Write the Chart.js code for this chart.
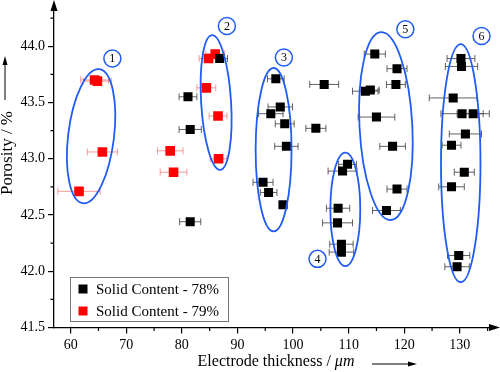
<!DOCTYPE html>
<html>
<head>
<meta charset="utf-8">
<script src="https://cdn.jsdelivr.net/npm/chart.js@4.4.1/dist/chart.umd.min.js"></script>
<style>
  html, body { margin: 0; padding: 0; background: #fff; }
  #wrap { width: 500px; height: 372px; }
</style>
</head>
<body>
<div id="wrap"><canvas id="chart"></canvas></div>
<script>
// Solid content 78 % (black)
const blackX = [86.8, 81.1, 81.5, 81.5, 96.9, 97.7, 96.0, 98.5, 98.8, 94.6, 95.6, 98.2,
  105.6, 104.1, 109.8, 108.9, 108.1, 108.0, 108.7, 108.7,
  114.7, 118.7, 118.5, 113.0, 113.9, 115.0, 117.9, 118.7, 116.8,
  130.2, 130.3, 128.8, 130.4, 132.4, 131.0, 128.5, 130.8, 128.5, 129.8, 129.5]
const blackY = [43.89, 43.55, 43.26, 42.44, 43.71, 43.46, 43.40, 43.31, 43.11, 42.79, 42.70, 42.59,
  43.66, 43.27, 42.95, 42.89, 42.56, 42.43, 42.24, 42.17,
  43.93, 43.80, 43.66, 43.60, 43.61, 43.37, 43.11, 42.73, 42.54,
  43.89, 43.82, 43.54, 43.40, 43.40, 43.22, 43.12, 42.88, 42.75, 42.14, 42.04]
const blackErr = [1.4, 1.6, 2.0, 1.9, 1.5, 2.2, 2.2, 1.7, 2.1, 1.8, 1.5, 0.7,
  2.6, 1.8, 1.6, 2.6, 2.1, 2.7, 2.1, 2.2,
  1.9, 1.8, 1.7, 2.3, 1.6, 3.3, 2.3, 1.8, 2.5,
  2.5, 2.9, 4.3, 3.8, 2.9, 2.9, 1.7, 1.8, 2.3, 2.0, 2.2]

// Solid content 79 % (red)
const redX = [64.3, 64.8, 65.7, 61.5, 77.9, 78.5, 84.4, 86.5, 86.6, 84.8, 86.0]
const redY = [43.70, 43.69, 43.06, 42.71, 43.07, 42.88, 43.63, 43.38, 43.00, 43.89, 43.93]
const redErr = [2.5, 2.5, 2.7, 3.8, 2.3, 2.4, 1.7, 1.6, 1.5, 1.7, 1.7]

const seriesLabels = ['Solid Content - 78%', 'Solid Content - 79%']
const xTicks = [60, 70, 80, 90, 100, 110, 120, 130]
const yTicks = [41.5, 42.0, 42.5, 43.0, 43.5, 44.0]

// grouping ellipses (data units) and their numbered markers
const groupX = [63.67, 86.16, 96.5, 109.4, 116.7, 130.16]
const groupY = [43.20, 43.50, 43.08, 42.55, 43.29, 42.96]
const groupRx = [4.12, 2.69, 3.23, 2.69, 4.75, 3.55]
const groupRy = [0.60, 0.60, 0.726, 0.504, 0.836, 1.058]
const groupTilt = [7, -3.5, 0, 0, -3, 0]
const markX = [67.5, 88.1, 98.35, 104.4, 120.2, 133.9]
const markY = [43.89, 44.18, 43.90, 42.11, 44.15, 44.09]
const markText = ['1', '2', '3', '4', '5', '6']

const serif = '"Liberation Serif", "DejaVu Serif", serif'
const blue = '#1f5cf5'

const toPoints = (xs, ys) => xs.map((x, i) => ({ x: x, y: ys[i] }))

const decorPlugin = {
  id: 'decor',
  beforeDatasetsDraw(chart) {
    const ctx = chart.ctx
    const xs = chart.scales.x, ys = chart.scales.y
    chart.data.datasets.forEach(ds => {
      ctx.save()
      ctx.strokeStyle = ds.errColor
      ctx.lineWidth = 1
      ds.data.forEach((p, i) => {
        const y = ys.getPixelForValue(p.y)
        const x1 = xs.getPixelForValue(p.x - ds.xErr[i])
        const x2 = xs.getPixelForValue(p.x + ds.xErr[i])
        ctx.beginPath()
        ctx.moveTo(x1, y); ctx.lineTo(x2, y)
        ctx.moveTo(x1, y - 3.5); ctx.lineTo(x1, y + 3.5)
        ctx.moveTo(x2, y - 3.5); ctx.lineTo(x2, y + 3.5)
        ctx.stroke()
      })
      ctx.restore()
    })
  },
  afterDatasetsDraw(chart) {
    const ctx = chart.ctx
    const xs = chart.scales.x, ys = chart.scales.y
    const area = chart.chartArea

    // ellipses
    ctx.save()
    ctx.strokeStyle = blue
    ctx.lineWidth = 1.8
    groupX.forEach((gx, i) => {
      const cx = xs.getPixelForValue(gx)
      const cy = ys.getPixelForValue(groupY[i])
      const rx = Math.abs(xs.getPixelForValue(gx + groupRx[i]) - cx)
      const ry = Math.abs(ys.getPixelForValue(groupY[i] + groupRy[i]) - cy)
      ctx.beginPath()
      ctx.ellipse(cx, cy, rx, ry, groupTilt[i] * Math.PI / 180, 0, Math.PI * 2)
      ctx.stroke()
    })
    ctx.lineWidth = 1.5
    ctx.font = '12px ' + serif
    ctx.textAlign = 'center'
    ctx.textBaseline = 'middle'
    markX.forEach((mx, i) => {
      const cx = xs.getPixelForValue(mx)
      const cy = ys.getPixelForValue(markY[i])
      ctx.beginPath()
      ctx.arc(cx, cy, 8.5, 0, Math.PI * 2)
      ctx.fillStyle = '#fff'
      ctx.fill()
      ctx.stroke()
      ctx.fillStyle = '#000'
      ctx.fillText(markText[i], cx, cy + 0.5)
    })
    ctx.restore()

    // minor ticks + axis arrows
    ctx.save()
    ctx.strokeStyle = '#000'
    ctx.fillStyle = '#000'
    ctx.lineWidth = 1.2
    ctx.beginPath()
    for (let v = 65; v < 136; v += 10) {
      const x = xs.getPixelForValue(v)
      ctx.moveTo(x, area.bottom); ctx.lineTo(x, area.bottom + 3.5)
    }
    for (let v = 41.75; v < 44.35; v += 0.5) {
      const y = ys.getPixelForValue(v)
      ctx.moveTo(area.left, y); ctx.lineTo(area.left - 3.5, y)
    }
    ctx.stroke()
    ctx.beginPath()
    ctx.moveTo(area.left, area.top + 1); ctx.lineTo(area.left, 4)
    ctx.moveTo(area.right - 1, area.bottom); ctx.lineTo(494, area.bottom)
    ctx.stroke()
    ctx.beginPath()
    ctx.moveTo(area.left, 0); ctx.lineTo(area.left - 3.5, 11); ctx.lineTo(area.left + 3.5, 11); ctx.closePath()
    ctx.moveTo(500, area.bottom); ctx.lineTo(489, area.bottom - 3.5); ctx.lineTo(489, area.bottom + 3.5); ctx.closePath()
    ctx.fill()

    // axis titles with arrows
    ctx.font = '17px ' + serif
    ctx.textAlign = 'center'
    ctx.textBaseline = 'middle'
    ctx.save()
    ctx.translate(8, 153)
    ctx.rotate(-Math.PI / 2)
    ctx.fillText('Porosity / %', 0, 0)
    ctx.restore()
    ctx.lineWidth = 1
    ctx.beginPath()
    ctx.moveTo(5, 100); ctx.lineTo(5, 62)
    ctx.stroke()
    ctx.beginPath()
    ctx.moveTo(5, 56); ctx.lineTo(2.5, 65); ctx.lineTo(7.5, 65); ctx.closePath()
    ctx.fill()

    const plain = 'Electrode thickness / '
    ctx.font = '16px ' + serif
    const w1 = ctx.measureText(plain).width
    ctx.font = 'italic 16px ' + serif
    const w2 = ctx.measureText('\u03bcm').width
    const start = 276 - (w1 + w2) / 2
    ctx.textAlign = 'left'
    ctx.font = '16px ' + serif
    ctx.fillText(plain, start, 362)
    ctx.font = 'italic 16px ' + serif
    ctx.fillText('\u03bcm', start + w1, 362)
    ctx.beginPath()
    ctx.moveTo(372, 364); ctx.lineTo(410, 364)
    ctx.stroke()
    ctx.beginPath()
    ctx.moveTo(417, 364); ctx.lineTo(408, 361.5); ctx.lineTo(408, 366.5); ctx.closePath()
    ctx.fill()
    ctx.restore()

    // legend box
    ctx.save()
    ctx.fillStyle = '#fff'
    ctx.fillRect(70.5, 277.5, 158, 44)
    ctx.strokeStyle = '#777'
    ctx.lineWidth = 1
    ctx.strokeRect(70.5, 277.5, 158, 44)
    ctx.font = '15px ' + serif
    ctx.textAlign = 'left'
    ctx.textBaseline = 'middle'
    chart.data.datasets.forEach((ds, i) => {
      const y = 289 + i * 22
      ctx.fillStyle = ds.backgroundColor
      ctx.fillRect(78.5, y - 4.5, 9, 9)
      ctx.fillStyle = '#000'
      ctx.fillText(ds.label, 96, y + 1)
    })
    ctx.restore()
  }
}

new Chart(document.getElementById('chart'), {
  type: 'scatter',
  data: {
    datasets: [
      {
        label: seriesLabels[0],
        data: toPoints(blackX, blackY),
        xErr: blackErr,
        errColor: 'rgba(70,70,70,0.85)',
        backgroundColor: '#000000',
        borderWidth: 0,
        pointStyle: 'rect',
        pointRadius: 6.4
      },
      {
        label: seriesLabels[1],
        data: toPoints(redX, redY),
        xErr: redErr,
        errColor: 'rgba(245,110,110,0.7)',
        backgroundColor: '#ff0000',
        borderWidth: 0,
        pointStyle: 'rect',
        pointRadius: 6.8
      }
    ]
  },
  options: {
    responsive: true,
    maintainAspectRatio: false,
    animation: false,
    devicePixelRatio: 1,
    events: [],
    layout: { padding: { top: 2, right: 5, left: 0, bottom: 0 } },
    plugins: { legend: { display: false }, tooltip: { enabled: false } },
    scales: {
      x: {
        type: 'linear',
        min: 57,
        max: 136,
        afterFit: s => { s.height = 44.5; s.paddingLeft = 0; s.paddingRight = 0 },
        afterBuildTicks: s => { s.ticks = xTicks.map(v => ({ value: v })) },
        border: { color: '#000', width: 1.3 },
        grid: { drawOnChartArea: false, color: '#000', tickLength: 6, lineWidth: 1.2 },
        ticks: { color: '#000', font: { family: serif, size: 14 }, maxRotation: 0, padding: 3 }
      },
      y: {
        min: 41.5,
        max: 44.35,
        afterFit: s => { s.width = 54; s.paddingTop = 0; s.paddingBottom = 0 },
        afterBuildTicks: s => { s.ticks = yTicks.map(v => ({ value: v })) },
        border: { color: '#000', width: 1.3 },
        grid: { drawOnChartArea: false, color: '#000', tickLength: 6, lineWidth: 1.2 },
        ticks: { color: '#000', font: { family: serif, size: 14 }, padding: 3, callback: v => v.toFixed(1) }
      }
    }
  },
  plugins: [decorPlugin]
})
</script>
</body>
</html>
